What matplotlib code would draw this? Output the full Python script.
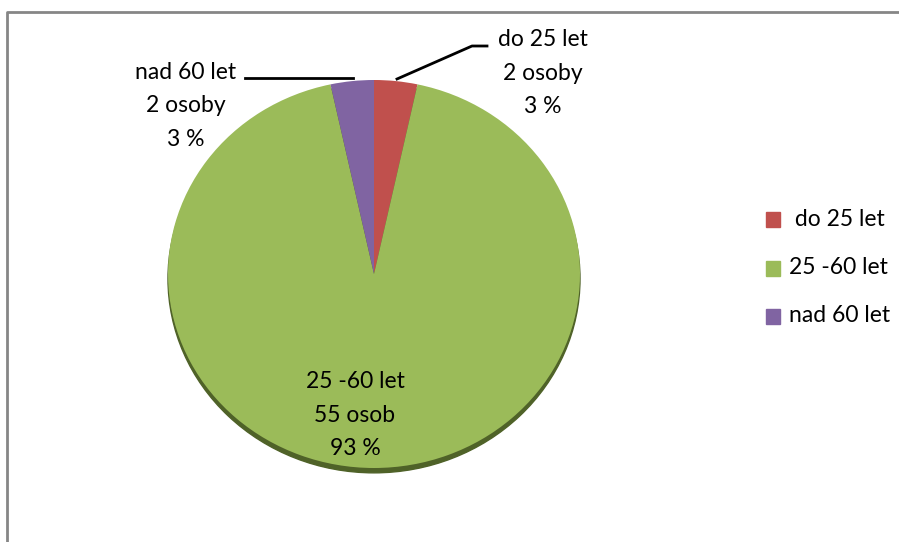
import matplotlib
matplotlib.use("Agg")
import matplotlib.pyplot as plt
from matplotlib.patches import Ellipse, Rectangle

# data
categories = ["do 25 let", "25 -60 let", "nad 60 let"]
counts = [2, 55, 2]
count_labels = ["2 osoby", "55 osob", "2 osoby"]
colors = ["#C0504D", "#9BBB59", "#8064A2"]

W, H = 899, 542
plt.rcParams["font.family"] = ["Lato", "DejaVu Sans"]
FS = 16.5
LS = 1.75

fig = plt.figure(figsize=(W / 100, H / 100), dpi=100)


def px_box(x0, y0, x1, y1):
    # pixel box (top-left origin) -> figure fraction [l, b, w, h]
    return [x0 / W, 1 - y1 / H, (x1 - x0) / W, (y1 - y0) / H]


# pie, slightly squashed vertically
pax = fig.add_axes(px_box(168, 80, 580, 468))
total = sum(counts)
pax.add_patch(Ellipse((0, -0.025), 2.0, 2.0, color="#4F6228", zorder=0, clip_on=False))
pax.pie(counts, colors=colors, startangle=90, counterclock=False,
        wedgeprops=dict(linewidth=0))
pax.set_aspect("auto")
pax.set_xlim(-1, 1)
pax.set_ylim(-1, 1)
pax.axis("off")

# overlay in pixel coords for frame, leader lines, labels, legend
ov = fig.add_axes([0, 0, 1, 1])
ov.set_xlim(0, W)
ov.set_ylim(H, 0)
ov.axis("off")
ov.patch.set_alpha(0)

# chart frame (top + left edges visible)
ov.plot([7, 7, W], [H, 12, 12], color="#868686", lw=2, solid_capstyle="butt")

pct = [round(c / total * 100) for c in counts]
labels = [f"{c}\n{n}\n{p} %" for c, n, p in zip(categories, count_labels, pct)]

# data labels
ov.text(543, 73, labels[0], ha="center", va="center", fontsize=FS, linespacing=LS)
ov.text(355, 415, labels[1], ha="center", va="center", fontsize=FS, linespacing=LS)
ov.text(186, 106, labels[2], ha="center", va="center", fontsize=FS, linespacing=LS)

# leader lines
ov.plot([397, 472, 487], [79, 46, 46], color="black", lw=2)
ov.plot([245, 353], [78, 78], color="black", lw=2)

# legend
leg_y = [219, 268, 316]
for name, col, y in zip(categories, colors, leg_y):
    ov.add_patch(Rectangle((766, y - 7.5), 14, 15, color=col))
    ov.text(789, y, (" " if name == "do 25 let" else "") + name,
            ha="left", va="center", fontsize=FS)

fig.savefig("out.png", dpi=100)
